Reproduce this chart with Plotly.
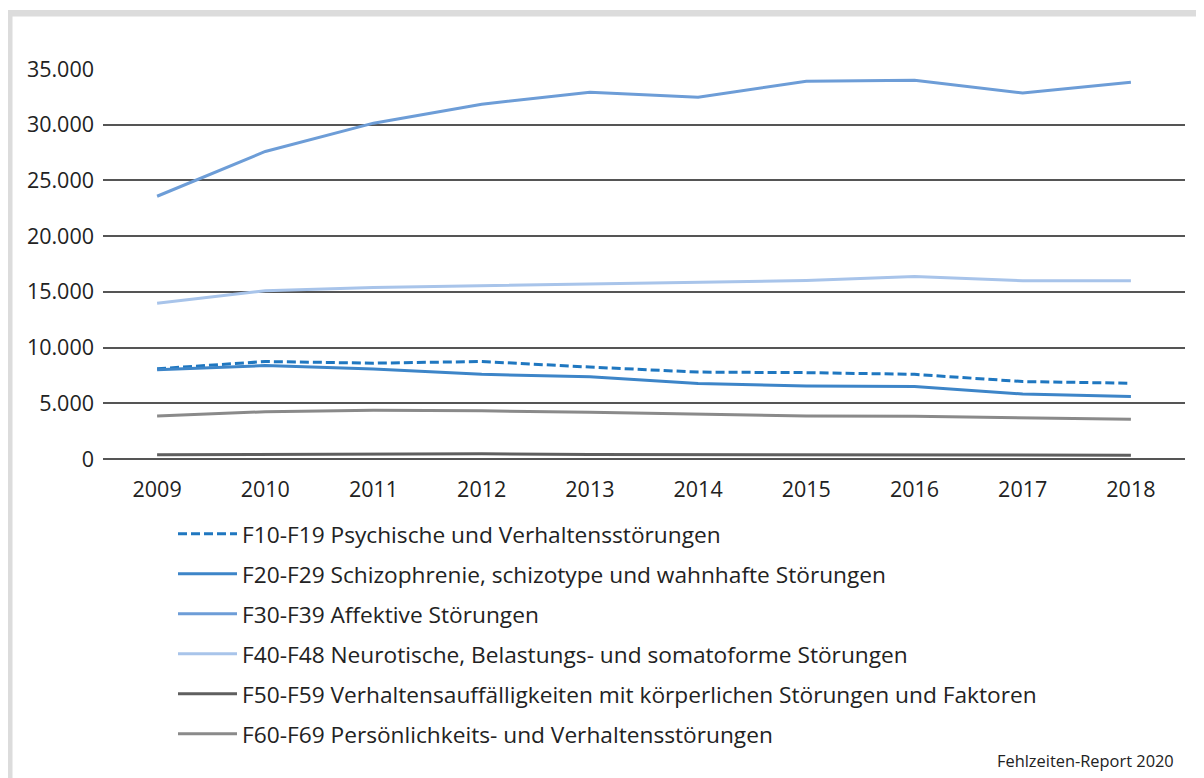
import plotly.graph_objects as go

years = ["2009", "2010", "2011", "2012", "2013", "2014", "2015", "2016", "2017", "2018"]

names = [
    "F10-F19 Psychische und Verhaltensstörungen",
    "F20-F29 Schizophrenie, schizotype und wahnhafte Störungen",
    "F30-F39 Affektive Störungen",
    "F40-F48 Neurotische, Belastungs- und somatoforme Störungen",
    "F50-F59 Verhaltensauffälligkeiten mit körperlichen Störungen und Faktoren",
    "F60-F69 Persönlichkeits- und Verhaltensstörungen",
]

f10 = [8100, 8750, 8600, 8750, 8250, 7800, 7750, 7600, 6950, 6800]
f20 = [8000, 8380, 8080, 7600, 7380, 6780, 6560, 6500, 5830, 5620]
f30 = [23580, 27600, 30140, 31840, 32920, 32470, 33890, 34000, 32840, 33820]
f40 = [13980, 15100, 15400, 15550, 15700, 15820, 16020, 16380, 16000, 15990]
f50 = [380, 400, 420, 470, 400, 390, 390, 360, 330, 340]
f60 = [3860, 4240, 4370, 4330, 4190, 4040, 3860, 3830, 3710, 3560]

series = [f10, f20, f30, f40, f50, f60]
colors = ["#1f77c0", "#3d85c8", "#6d9dd7", "#a8c4ea", "#5f5f5f", "#8a8a8a"]
dashes = ["9px,4px", "solid", "solid", "solid", "solid", "solid"]

yticks = [0, 5000, 10000, 15000, 20000, 25000, 30000, 35000]
yticklabels = ["0", "5.000", "10.000", "15.000", "20.000", "25.000", "30.000", "35.000"]

FONT = "Open Sans"
TXT = "#222222"

fig = go.Figure()
for i, (nm, vals) in enumerate(zip(names, series)):
    fig.add_trace(go.Scatter(
        x=years, y=vals, name=nm, mode="lines",
        line=dict(color=colors[i], width=3, dash=dashes[i]),
        legendgroup=str(i), cliponaxis=False,
    ))

# page body has an 8px margin; the figure is sized to end at the window edge
OFF = 8
PW, PH = 1204, 778
W, H = PW - OFF, PH - OFF
# plot area in page coordinates
L, R, T, B = 103, 1185, 69, 459


def px(xp):
    return (xp - L) / (R - L)


def py(yp):
    return (B - yp) / (B - T)


shapes = [
    dict(type="rect", xref="paper", yref="paper", x0=px(6), x1=px(1210), y0=py(16.5), y1=py(10),
         fillcolor="#dcdcdc", line=dict(width=0), layer="below"),
    dict(type="rect", xref="paper", yref="paper", x0=px(4), x1=px(12.5), y0=py(790), y1=py(10),
         fillcolor="#dcdcdc", line=dict(width=0), layer="below"),
    dict(type="line", xref="paper", yref="paper", x0=px(1202), x1=px(1202), y0=py(790), y1=py(16.5),
         line=dict(color="#e2e2e2", width=1.5), layer="below"),
]

fig.update_layout(
    width=W, height=H,
    margin=dict(l=L - OFF, r=PW - R, t=T - OFF, b=PH - B, pad=0),
    paper_bgcolor="white", plot_bgcolor="white",
    font=dict(family=FONT, color=TXT, size=21.5),
    showlegend=True,
    legend=dict(
        x=px(173), y=py(512.5), xanchor="left", yanchor="top",
        font=dict(family=FONT, size=22.7, color=TXT),
        traceorder="grouped", tracegroupgap=7.5, itemwidth=59,
        bgcolor="rgba(0,0,0,0)",
    ),
    xaxis=dict(
        type="category", range=[-0.5, 9.5], showgrid=False, showline=False, zeroline=False,
        ticks="", tickfont=dict(family=FONT, size=21.5, color=TXT), ticklabelstandoff=15,
        fixedrange=True,
    ),
    yaxis=dict(
        range=[0, 35000], tickvals=yticks, ticktext=yticklabels,
        showgrid=True, gridcolor="#555555", gridwidth=1.5,
        zeroline=True, zerolinecolor="#555555", zerolinewidth=1.5,
        showline=False, ticks="", ticklabelstandoff=8,
        tickfont=dict(family=FONT, size=21.5, color=TXT),
        fixedrange=True,
    ),
    shapes=shapes,
    annotations=[
        dict(text="Fehlzeiten-Report 2020", xref="paper", yref="paper",
             x=px(1176), y=py(760), xanchor="right", yanchor="middle",
             showarrow=False, font=dict(family=FONT, size=16.4, color=TXT)),
    ],
)

fig.write_html("out.html")
